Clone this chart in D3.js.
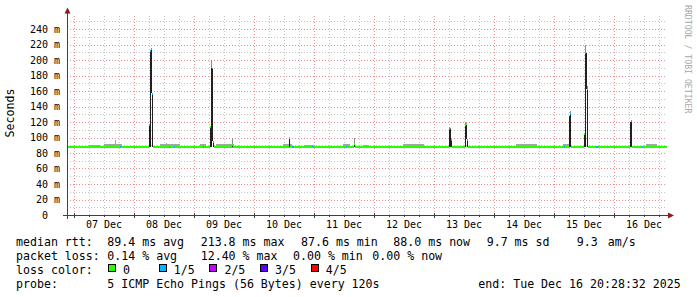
<!DOCTYPE html>
<html><head><meta charset="utf-8">
<script src="https://cdn.jsdelivr.net/npm/d3@7/dist/d3.min.js"></script>
<style>
html,body{margin:0;padding:0;background:#fff;}
svg{display:block;}
text{font-family:"DejaVu Sans Mono",monospace;white-space:pre;}
</style></head><body>
<svg id="c" width="697" height="297"></svg>
<script>
// ---------- data ----------
const startTime = "2025-12-06T21:12";
const endTime   = "2025-12-16T21:12";
const dayLabels = ["07 Dec","08 Dec","09 Dec","10 Dec","11 Dec","12 Dec","13 Dec","14 Dec","15 Dec","16 Dec"];
const yMax = 260;
const yTicks = [0,20,40,60,80,100,120,140,160,180,200,220,240];
const baseMedian = 88.0;

// spike columns (24-min bins): time, smoke low, dense smoke top, smoke top, median, loss (of 5)
const spikeTimes = ["2025-12-08T06:00","2025-12-08T06:24","2025-12-08T06:48","2025-12-08T07:12",
  "2025-12-09T06:24","2025-12-09T06:48","2025-12-09T07:12","2025-12-09T07:36",
  "2025-12-09T15:12","2025-12-10T14:00","2025-12-11T16:00",
  "2025-12-13T06:00","2025-12-13T06:24","2025-12-13T06:48",
  "2025-12-13T12:24","2025-12-13T12:48","2025-12-13T13:12",
  "2025-12-15T06:00","2025-12-15T06:24",
  "2025-12-15T12:00","2025-12-15T12:24","2025-12-15T12:48","2025-12-15T13:12",
  "2025-12-16T06:24","2025-12-16T06:48"];
const spikeLo   = [88,88,157,88, 88,88,95,88, 88,88,88, 88,88,88, 88,98,88, 88,88, 88,88,163,88, 88,88];
const spikeCore = [117,212,214,157, 115,191,188,94, 92,99,92, 112,111,97, 117,117,98, 128,130, 105,209,209,163, 120,121];
const spikeHi   = [117,213,215,158, 115,200,190,95, 100,101,100, 113,112,98, 120,118,98, 128,134, 105,219,209,167, 120,122];
const spikeMed  = [116,212,213.8,156, 114,191,null,94, 90,99,92, 111,null,97, 116,117,97, null,130, 104,209,null,163, null,121];
const spikeLoss = [1,1,1,1, 0,1,1,1, 0,0,0, 1,0,1, 0,0,1, 0,1, 0,1,0,1, 0,1];

// light smoke around the baseline: start, end, top value
const hazeStart = ["2025-12-07T06:00","2025-12-07T12:00","2025-12-07T16:24","2025-12-08T10:24","2025-12-08T12:48",
  "2025-12-09T02:24","2025-12-09T08:48","2025-12-10T11:36","2025-12-10T20:00","2025-12-11T11:36",
  "2025-12-11T19:36","2025-12-12T11:36","2025-12-14T08:48","2025-12-15T03:36","2025-12-16T12:48"];
const hazeEnd   = ["2025-12-07T10:24","2025-12-07T19:12","2025-12-07T16:48","2025-12-08T18:24","2025-12-08T13:12",
  "2025-12-09T04:48","2025-12-09T16:00","2025-12-10T15:12","2025-12-11T00:00","2025-12-11T14:24",
  "2025-12-11T22:00","2025-12-12T20:00","2025-12-14T17:12","2025-12-15T06:24","2025-12-16T17:12"];
const hazeHi    = [90.5,91,97,92,93, 92,91,91,90,91, 90,92,91,91,91];

// baseline bins with 1/5 packet loss
const lossTimes = ["2025-12-07T18:24","2025-12-08T14:00","2025-12-08T16:00","2025-12-09T03:36",
  "2025-12-10T15:12","2025-12-10T15:36","2025-12-10T23:12","2025-12-11T12:48",
  "2025-12-15T04:00","2025-12-15T16:48","2025-12-15T17:12","2025-12-16T11:12"];

const lossColors = ["#26ff00","#00b8ff","#c800ff","#5a00ff","#ff0000"];
const lossLabels = ["0","1/5","2/5","3/5","4/5"];

const rttItems  = ["median rtt:","89.4 ms avg","213.8 ms max","87.6 ms min","88.0 ms now","9.7 ms sd","9.3","am/s"];
const lossItems = ["packet loss:","0.14 % avg","12.40 % max","0.00 % min","0.00 % now"];
const probeItems = ["probe:","5 ICMP Echo Pings (56 Bytes) every 120s","end: Tue Dec 16 20:28:32 2025"];
const colorTitle = "loss color:";
const yTitle = "Seconds";
const watermark = "RRDTOOL / TOBI OETIKER";

// ---------- layout ----------
const P = d3.utcParse("%Y-%m-%dT%H:%M");
const L = 67, R = 667, B = 215, T = 13.5;
const x = d3.scaleUtc().domain([P(startTime), P(endTime)]).range([L, R]);
const y = d3.scaleLinear().domain([0, yMax]).range([B, T]);
const bin = t => d3.utcMinute.offset(t, 24);

const svg = d3.select("#c");
svg.append("rect").attr("width",697).attr("height",297).attr("fill","#fff");

// grid
const g = svg.append("g").attr("shape-rendering","crispEdges");
const minorV = d3.utcHour.every(6).range(x.domain()[0], x.domain()[1]).filter(d => d.getUTCHours() !== 0);
const majorV = d3.utcDay.range(x.domain()[0], x.domain()[1]);
const minorH = d3.range(10, yMax, 20);
g.selectAll(".mv").data(minorV).join("line")
  .attr("x1", d => Math.round(x(d)) + 0.5).attr("x2", d => Math.round(x(d)) + 0.5)
  .attr("y1", B).attr("y2", T).attr("stroke","#c4c4c4").attr("stroke-dasharray","1,2");
g.selectAll(".mh").data(minorH).join("line")
  .attr("y1", d => Math.round(y(d)) + 0.5).attr("y2", d => Math.round(y(d)) + 0.5)
  .attr("x1", L).attr("x2", R).attr("stroke","#c4c4c4").attr("stroke-dasharray","1,2");
g.selectAll(".Mv").data(majorV).join("line")
  .attr("x1", d => Math.round(x(d)) + 0.5).attr("x2", d => Math.round(x(d)) + 0.5)
  .attr("y1", B).attr("y2", T).attr("stroke","#e89090").attr("stroke-dasharray","1,2");
g.selectAll(".Mh").data(yTicks.filter(v => v > 0)).join("line")
  .attr("y1", d => Math.round(y(d)) + 0.5).attr("y2", d => Math.round(y(d)) + 0.5)
  .attr("x1", L).attr("x2", R).attr("stroke","#e89090").attr("stroke-dasharray","1,2");

// data
const d = svg.append("g").attr("shape-rendering","crispEdges");
const haze = hazeStart.map((s,i) => ({s: P(s), e: P(hazeEnd[i]), hi: hazeHi[i]}));
d.selectAll(".hz").data(haze).join("rect")
  .attr("x", h => x(h.s)).attr("width", h => x(h.e) - x(h.s))
  .attr("y", h => y(h.hi)).attr("height", h => y(baseMedian - 1) - y(h.hi))
  .attr("fill","#a6a6a6");

const spikes = spikeTimes.map((t,i) => ({t: P(t), lo: spikeLo[i], core: spikeCore[i], hi: spikeHi[i], med: spikeMed[i], loss: spikeLoss[i]}));
d.selectAll(".sg").data(spikes).join("rect")
  .attr("x", s => x(s.t)).attr("width", s => x(bin(s.t)) - x(s.t))
  .attr("y", s => y(s.hi)).attr("height", s => y(s.core) - y(s.hi)).attr("fill","#8c8c8c");
d.selectAll(".sc").data(spikes).join("rect")
  .attr("x", s => x(s.t)).attr("width", s => x(bin(s.t)) - x(s.t))
  .attr("y", s => y(s.core)).attr("height", s => y(s.lo) - y(s.core)).attr("fill","#202020");

// baseline median, interrupted where spikes are
const cuts = spikes.map(s => s.t).sort((a,b) => a - b);
const segs = [];
let cur = x.domain()[0];
cuts.forEach(c => { if (c > cur) segs.push([cur, c]); cur = bin(c) > cur ? bin(c) : cur; });
if (cur < x.domain()[1]) segs.push([cur, x.domain()[1]]);
d.selectAll(".md").data(segs).join("rect")
  .attr("x", s => x(s[0])).attr("width", s => x(s[1]) - x(s[0]))
  .attr("y", Math.round(y(baseMedian)) - 1).attr("height", 2).attr("fill", lossColors[0]);
d.selectAll(".ls").data(lossTimes.map(P)).join("rect")
  .attr("x", t => x(t)).attr("width", t => x(bin(t)) - x(t))
  .attr("y", Math.round(y(baseMedian)) - 1).attr("height", 2).attr("fill", lossColors[1]);
d.selectAll(".sm").data(spikes.filter(s => s.med != null)).join("rect")
  .attr("x", s => x(s.t)).attr("width", s => x(bin(s.t)) - x(s.t))
  .attr("y", s => Math.round(y(s.med)) - 1).attr("height", 2).attr("fill", s => lossColors[s.loss]);

// axes
const a = svg.append("g").attr("shape-rendering","crispEdges");
a.append("line").attr("x1", L - 4).attr("x2", R + 3).attr("y1", B + 0.5).attr("y2", B + 0.5).attr("stroke","#404040");
a.append("line").attr("x1", L + 0.5).attr("x2", L + 0.5).attr("y1", B + 4).attr("y2", T - 3).attr("stroke","#404040");
a.selectAll(".tk").data(majorV).join("line")
  .attr("x1", t => Math.round(x(t)) + 0.5).attr("x2", t => Math.round(x(t)) + 0.5)
  .attr("y1", B - 2).attr("y2", B + 3).attr("stroke","#404040");
a.selectAll(".tm").data(minorV).join("line")
  .attr("x1", t => Math.round(x(t)) + 0.5).attr("x2", t => Math.round(x(t)) + 0.5)
  .attr("y1", B).attr("y2", B + 2).attr("stroke","#404040");
svg.append("path").attr("d", `M${L-2.5},${T}L${L+3.5},${T}L${L+0.5},${T-6}Z`).attr("fill","#8b1a1a");
svg.append("path").attr("d", `M${R+1},${B-2.5}L${R+1},${B+3.5}L${R+7},${B+0.5}Z`).attr("fill","#8b1a1a");

// tick labels
svg.append("g").selectAll("text").data(yTicks).join("text")
  .attr("x", 60).attr("y", v => y(v) + 3.5).attr("text-anchor","end")
  .attr("font-size", 10).attr("fill","#000")
  .text(v => v === 0 ? "0\u00a0\u00a0" : v + " m");
svg.append("g").selectAll("text").data(majorV).join("text")
  .attr("x", t => x(d3.utcHour.offset(t, 12))).attr("y", 228).attr("text-anchor","middle")
  .attr("font-size", 10).attr("fill","#000")
  .text((t,i) => dayLabels[i]);

svg.append("text").attr("transform","translate(13.5,113) rotate(-90)").attr("text-anchor","middle")
  .attr("font-size", 11.6).attr("fill","#000").text(yTitle);
svg.append("text").attr("transform","translate(684.5,5) rotate(90)").attr("text-anchor","start")
  .attr("font-size", 8.2).attr("fill","#a8a8a8").text(watermark);

// legend
const FS = 11.6;
const rttX = [16,107.3,200.7,301,393.3,486.7,576.7,607.7];
const lossX = [16,107.3,200.7,293,372.3];
const probeX = [16,107.3,478.3];
const leg = svg.append("g").attr("font-size", FS).attr("fill","#000");
leg.selectAll(".r").data(rttItems).join("text").attr("x",(t,i)=>rttX[i]).attr("y",245.5).text(t=>t);
leg.selectAll(".l").data(lossItems).join("text").attr("x",(t,i)=>lossX[i]).attr("y",259.5).text(t=>t);
leg.append("text").attr("x",16).attr("y",273.5).text(colorTitle);
const sw = leg.selectAll(".sw").data(lossLabels).join("g")
  .attr("transform",(t,i)=>`translate(${108.5 + i*50.7},264.5)`);
sw.append("rect").attr("width",7).attr("height",7).attr("fill",(t,i)=>lossColors[i])
  .attr("stroke","#000").attr("stroke-width",1).attr("shape-rendering","crispEdges");
sw.append("text").attr("x",14.5).attr("y",9).text(t=>t);
leg.selectAll(".p").data(probeItems).join("text").attr("x",(t,i)=>probeX[i]).attr("y",287.5).text(t=>t);
</script>
</body></html>
